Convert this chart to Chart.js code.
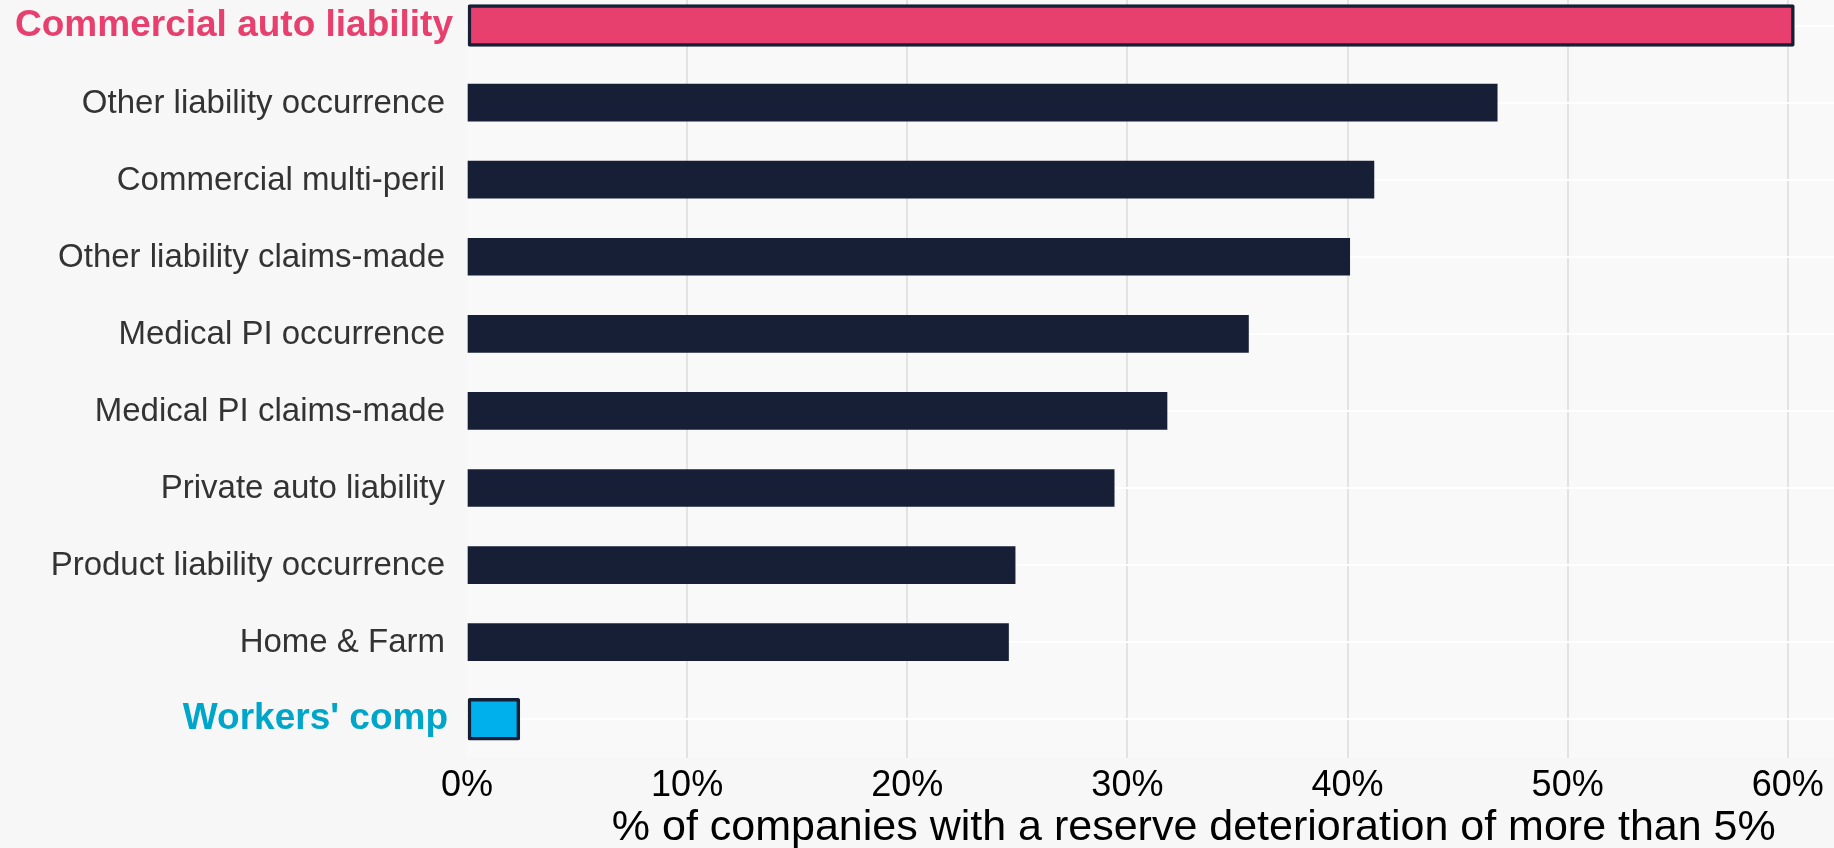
<!DOCTYPE html>
<html>
<head>
<meta charset="utf-8">
<title>Reserve deterioration by line of business</title>
<script src="https://cdn.jsdelivr.net/npm/chart.js@4.4.1/dist/chart.umd.min.js"></script>
<style>
  html, body { margin: 0; padding: 0; background: #f7f7f7; overflow: hidden; }
  #wrap { position: relative; width: 1834px; height: 848px; overflow: hidden; }
  #reserve-chart { position: absolute; left: 0; top: -13px; }
</style>
</head>
<body>
<div id="wrap">
  <canvas id="reserve-chart" width="1834" height="861"></canvas>
</div>
<script>
const categories = [
  'Commercial auto liability',
  'Other liability occurrence',
  'Commercial multi-peril',
  'Other liability claims-made',
  'Medical PI occurrence',
  'Medical PI claims-made',
  'Private auto liability',
  'Product liability occurrence',
  'Home & Farm',
  "Workers' comp"
];

// % of companies with a reserve deterioration of more than 5%
const shares = [60.3, 46.8, 41.2, 40.1, 35.5, 31.8, 29.4, 24.9, 24.6, 2.4];

const xTicks = [0, 10, 20, 30, 40, 50, 60];
const xTitle = '% of companies with a reserve deterioration of more than 5%';

// lines called out in colour: bar fill, label colour, label gap
const highlights = {
  0: { fill: '#e8406e', label: '#e8406e', gap: 14 },
  9: { fill: '#00b0ec', label: '#00a6ca', gap: 19 }
};

const NAVY = '#161f36';
const FONT = "'Liberation Sans', Arial, Helvetica, sans-serif";

document.addEventListener('DOMContentLoaded', function () {
  const baseValues = shares.map((v, i) => (highlights[i] ? null : v));
  const highlightValues = shares.map((v, i) => (highlights[i] ? v : null));
  const highlightFills = shares.map((v, i) => (highlights[i] ? highlights[i].fill : NAVY));

  // light panel behind the bars
  const panelBackground = {
    id: 'panelBackground',
    beforeDraw(chart) {
      const { ctx, chartArea } = chart;
      ctx.save();
      ctx.fillStyle = '#f9f9f9';
      ctx.fillRect(chartArea.left, chartArea.top, chartArea.right - chartArea.left, chartArea.bottom - chartArea.top);
      ctx.restore();
    }
  };

  // category names on the left, bold + coloured for highlighted lines
  const categoryLabels = {
    id: 'categoryLabels',
    afterDraw(chart) {
      const { ctx, scales } = chart;
      const y = scales.y;
      ctx.save();
      ctx.textAlign = 'right';
      ctx.textBaseline = 'middle';
      categories.forEach((label, i) => {
        const hl = highlights[i];
        ctx.font = hl ? 'bold 37px ' + FONT : '33px ' + FONT;
        ctx.fillStyle = hl ? hl.label : '#333333';
        ctx.fillText(label, y.right - (hl ? hl.gap : 22), y.getPixelForTick(i) + (hl ? 0 : 1));
      });
      ctx.restore();
    }
  };

  // x axis title, right aligned under the axis
  const axisTitle = {
    id: 'axisTitle',
    afterDraw(chart) {
      const { ctx, scales } = chart;
      const x = scales.x;
      ctx.save();
      ctx.font = '43px ' + FONT;
      ctx.fillStyle = '#000000';
      ctx.textAlign = 'right';
      ctx.textBaseline = 'alphabetic';
      ctx.fillText(xTitle, x.getPixelForValue(60) - 12, chart.height - 8);
      ctx.restore();
    }
  };

  const ctx = document.getElementById('reserve-chart').getContext('2d');
  const reserveChart = new Chart(ctx, {
    type: 'bar',
    data: {
      labels: categories,
      datasets: [
        {
          label: 'Other lines',
          data: baseValues,
          backgroundColor: NAVY,
          borderWidth: 0,
          barThickness: 37,
          grouped: false
        },
        {
          label: 'Highlighted lines',
          data: highlightValues,
          backgroundColor: highlightFills,
          borderColor: NAVY,
          borderWidth: 3.5,
          borderSkipped: false,
          borderRadius: 2,
          barThickness: 42,
          grouped: false
        }
      ]
    },
    options: {
      indexAxis: 'y',
      responsive: false,
      animation: false,
      devicePixelRatio: 1,
      layout: {
        padding: { top: 0, right: 0, bottom: 33, left: 0 }
      },
      plugins: {
        legend: { display: false },
        tooltip: { enabled: false }
      },
      scales: {
        x: {
          type: 'linear',
          min: 0,
          max: 62.1,
          border: { display: false },
          grid: {
            color: ctx => (ctx.tick && ctx.tick.value === 0 ? 'rgba(0,0,0,0)' : '#e3e3e3'),
            lineWidth: 2,
            drawTicks: false
          },
          afterBuildTicks: function (axis) {
            axis.ticks = xTicks.map(v => ({ value: v }));
          },
          ticks: {
            padding: 7,
            color: '#000000',
            font: { family: FONT, size: 36 },
            callback: v => v + '%'
          }
        },
        y: {
          type: 'category',
          offset: true,
          border: { display: false },
          grid: {
            offset: false,
            color: '#ffffff',
            lineWidth: 2,
            drawTicks: false
          },
          ticks: { display: false },
          afterFit: function (scale) {
            scale.width = 467;
          }
        }
      }
    },
    plugins: [panelBackground, categoryLabels, axisTitle]
  });
});
</script>
</body>
</html>
